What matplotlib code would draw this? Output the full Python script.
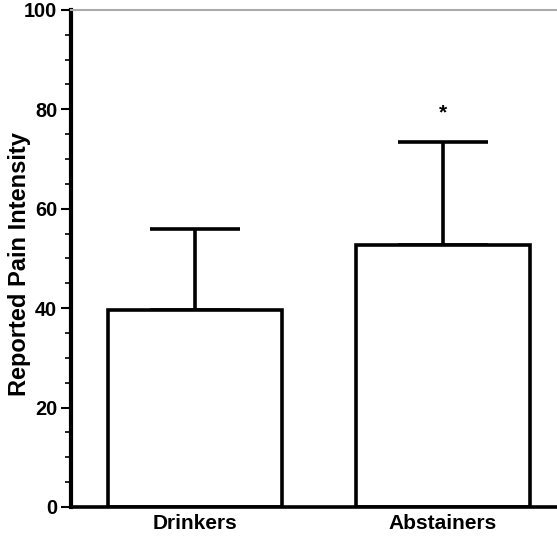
import numpy as np
import matplotlib
matplotlib.use('Agg')
import matplotlib.pyplot as plt
from matplotlib.ticker import MultipleLocator

# ─── Data ───
groups = ['Drinkers', 'Abstainers']
pain_mean = [39.6, 52.7]
pain_sd = [16.4, 20.7]
sig_marks = ['', '*']

plt.rcParams['font.family'] = ['Liberation Sans', 'DejaVu Sans']
plt.rcParams['font.weight'] = 'bold'

fig = plt.figure(figsize=(5.57, 5.37), dpi=100)
ax = fig.add_axes([0.1275, 0.056, 0.8725, 0.9255])

x = np.arange(len(groups))
ax.bar(x, pain_mean, width=0.70, color='white', edgecolor='black',
       linewidth=2.6, zorder=2)
ax.errorbar(x, pain_mean, yerr=[np.zeros(len(x)), pain_sd], fmt='none',
            ecolor='black', elinewidth=2.6, capsize=32.4, capthick=2.6, zorder=1)

for xi, m, s, mark in zip(x, pain_mean, pain_sd, sig_marks):
    if mark:
        ax.text(xi, m + s + 4.0, mark, ha='center', va='bottom',
                fontsize=15, fontweight='bold')

ax.set_xlim(-0.5, 1.46)
ax.set_ylim(0, 100)
ax.set_xticks(x)
ax.set_xticklabels(groups)
ax.yaxis.set_major_locator(MultipleLocator(20))
ax.yaxis.set_minor_locator(MultipleLocator(5))
ax.set_ylabel('Reported Pain Intensity', fontsize=17, fontweight='bold')
ax.yaxis.set_label_coords(-0.082, 0.488)

ax.spines['right'].set_visible(False)
ax.spines['top'].set_color('#aaaaaa')
ax.spines['top'].set_linewidth(1.5)
ax.spines['left'].set_linewidth(3)
ax.spines['bottom'].set_linewidth(2.6)
ax.tick_params(axis='y', which='major', length=7, width=1.5, pad=3, labelsize=14.3)
ax.tick_params(axis='y', which='minor', length=4, width=1.2)
ax.tick_params(axis='x', length=0, pad=5, labelsize=15)

plt.savefig('out.png', dpi=100)
plt.close()
